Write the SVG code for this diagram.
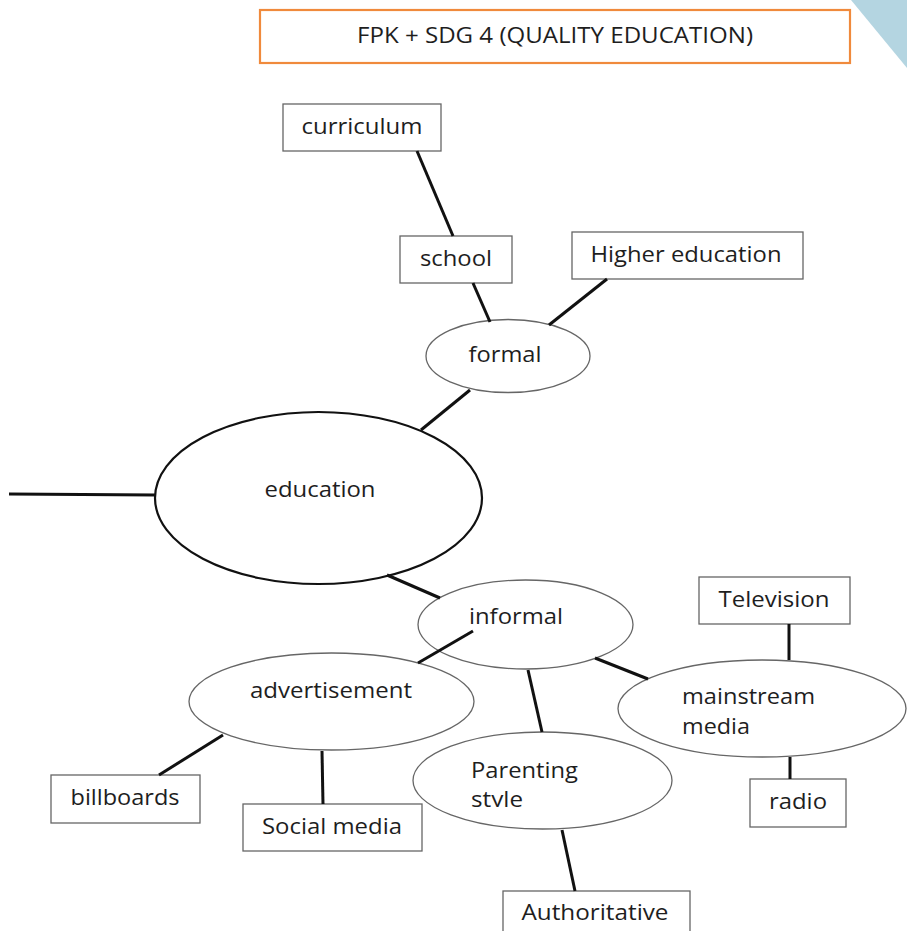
<svg xmlns="http://www.w3.org/2000/svg" width="907" height="931" viewBox="0 0 907 931">
<style>
  .box{fill:#fff;stroke:#666;stroke-width:1.3}
  .ell{fill:#fff;stroke:#666;stroke-width:1.3}
  .main{fill:#fff;stroke:#111;stroke-width:2.2}
  .con{stroke:#111;stroke-width:3;fill:none;stroke-linecap:butt}
  text{font-family:"Open Sans","Noto Sans",sans-serif;font-size:21px;fill:#1e1e1e}
  .c{text-anchor:middle}
</style>
<defs>
  <clipPath id="clipStyle"><rect x="400" y="785" width="200" height="22"/></clipPath>
</defs>
<rect width="907" height="931" fill="#fff"/>
<polygon points="851,0 907,0 907,68" fill="#b4d5e1"/>

<g id="title">
  <rect x="260" y="10" width="590" height="53" fill="#fff" stroke="#f08a3c" stroke-width="2.2"/>
  <text class="c" x="555" y="43" font-size="19" textLength="396" lengthAdjust="spacingAndGlyphs">FPK + SDG 4 (QUALITY EDUCATION)</text>
</g>

<g id="curriculum">
  <rect class="box" x="283" y="104" width="158" height="47"/>
  <text class="c" x="362" y="134" textLength="121" lengthAdjust="spacingAndGlyphs">curriculum</text>
</g>
<g id="school">
  <rect class="box" x="400" y="236" width="112" height="47"/>
  <text class="c" x="456" y="266" textLength="72" lengthAdjust="spacingAndGlyphs">school</text>
</g>
<g id="higher-education">
  <rect class="box" x="572" y="232" width="231" height="47"/>
  <text class="c" x="686" y="262" textLength="191" lengthAdjust="spacingAndGlyphs">Higher education</text>
</g>
<g id="formal">
  <ellipse class="ell" cx="508" cy="356" rx="82" ry="36.5"/>
  <text class="c" x="505" y="362" textLength="73" lengthAdjust="spacingAndGlyphs">formal</text>
</g>
<g id="education">
  <ellipse class="main" cx="318.5" cy="498" rx="163.5" ry="86"/>
  <text class="c" x="320" y="497" textLength="111" lengthAdjust="spacingAndGlyphs">education</text>
</g>
<g id="informal">
  <ellipse class="ell" cx="525.5" cy="624.5" rx="107.5" ry="44.5"/>
  <text x="469" y="624" textLength="94" lengthAdjust="spacingAndGlyphs">informal</text>
</g>
<g id="television">
  <rect class="box" x="699" y="577" width="151" height="47"/>
  <text class="c" x="774" y="607" textLength="111" lengthAdjust="spacingAndGlyphs">Television</text>
</g>
<g id="mainstream-media">
  <ellipse class="ell" cx="762" cy="708.5" rx="144" ry="48.5"/>
  <text x="682" y="704" textLength="133" lengthAdjust="spacingAndGlyphs">mainstream</text>
  <text x="682" y="734" textLength="68" lengthAdjust="spacingAndGlyphs">media</text>
</g>
<g id="radio">
  <rect class="box" x="750" y="779" width="96" height="48"/>
  <text class="c" x="798" y="809" textLength="58" lengthAdjust="spacingAndGlyphs">radio</text>
</g>
<g id="advertisement">
  <ellipse class="ell" cx="331.5" cy="701.5" rx="142.5" ry="48.5"/>
  <text class="c" x="331" y="698" textLength="162" lengthAdjust="spacingAndGlyphs">advertisement</text>
</g>
<g id="billboards">
  <rect class="box" x="51" y="775" width="149" height="48"/>
  <text class="c" x="125" y="805" textLength="109" lengthAdjust="spacingAndGlyphs">billboards</text>
</g>
<g id="social-media">
  <rect class="box" x="243" y="804" width="179" height="47"/>
  <text class="c" x="332" y="834" textLength="140" lengthAdjust="spacingAndGlyphs">Social media</text>
</g>
<g id="parenting-style">
  <ellipse class="ell" cx="542.5" cy="780.5" rx="129.5" ry="48.5"/>
  <text x="471" y="778" textLength="107" lengthAdjust="spacingAndGlyphs">Parenting</text>
  <text x="471" y="807" textLength="52" lengthAdjust="spacingAndGlyphs" clip-path="url(#clipStyle)">style</text>
</g>
<g id="authoritative">
  <rect class="box" x="503" y="891" width="187" height="50"/>
  <text class="c" x="595" y="920" textLength="147" lengthAdjust="spacingAndGlyphs">Authoritative</text>
</g>

<g id="connectors">
  <line class="con" x1="9" y1="494" x2="155" y2="495"/>
  <line class="con" x1="417" y1="151" x2="453" y2="236"/>
  <line class="con" x1="473" y1="283" x2="490" y2="322"/>
  <line class="con" x1="607" y1="279" x2="549" y2="325"/>
  <line class="con" x1="470" y1="390" x2="421" y2="430"/>
  <line class="con" x1="387" y1="575" x2="440" y2="598"/>
  <line class="con" x1="473" y1="631" x2="418" y2="663"/>
  <line class="con" x1="595" y1="658" x2="648" y2="679"/>
  <line class="con" x1="528" y1="670" x2="542" y2="732"/>
  <line class="con" x1="789" y1="624" x2="789" y2="660"/>
  <line class="con" x1="790" y1="757" x2="790" y2="779"/>
  <line class="con" x1="223" y1="735" x2="159" y2="775"/>
  <line class="con" x1="322" y1="751" x2="323" y2="804"/>
  <line class="con" x1="562" y1="830" x2="575" y2="891"/>
</g>
</svg>
